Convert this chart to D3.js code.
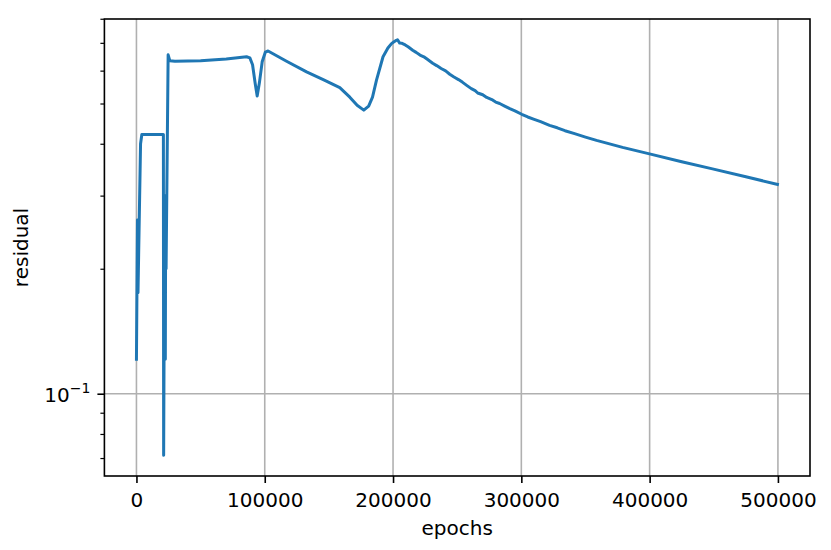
<!DOCTYPE html>
<html>
<head>
<meta charset="utf-8">
<script src="https://cdn.jsdelivr.net/npm/d3@7"></script>
<style>
  html, body { margin: 0; padding: 0; background: #fff; }
  svg { display: block; }
  text { font-family: "DejaVu Sans", sans-serif; fill: #000; }
</style>
</head>
<body>
<svg id="chart" width="831" height="550"></svg>
<script>
// ---- data ----
const epochs = [
  0, 800, 1200, 3200, 4200, 21000, 21200, 21500, 22500, 22800, 23100, 24700, 26000,
  30000, 50000, 70000, 85800, 88400, 90500, 92500, 94100, 95800, 98000, 100500, 102600,
  117000, 132600, 146000, 158500, 166300, 172000, 177200, 181000, 184000, 187100, 192200,
  196000, 198800, 200500, 202600, 203500, 205200, 207000, 209500, 212000, 215300, 218000,
  221000, 224000, 227000, 230900, 234000, 237500, 241000, 244200, 247500, 251000, 254000,
  257400, 261000, 264000, 266000, 269900, 273000, 277000, 280000, 283100, 287000, 291000,
  295000, 300300, 305000, 310000, 315000, 322000, 328000, 334000, 341500, 350000, 358600,
  378900, 399100, 425000, 449000, 475000, 499600
];
const residual = [
  0.121, 0.262, 0.175, 0.400, 0.421, 0.421, 0.0711, 0.121, 0.121, 0.30, 0.20, 0.655, 0.634,
  0.632, 0.634, 0.640, 0.648, 0.644, 0.620, 0.560, 0.521, 0.560, 0.630, 0.665, 0.669,
  0.632, 0.596, 0.570, 0.546, 0.518, 0.495, 0.482, 0.493, 0.518, 0.569, 0.648,
  0.680, 0.697, 0.703, 0.710, 0.712, 0.699, 0.698, 0.692, 0.684, 0.672, 0.664,
  0.654, 0.648, 0.638, 0.625, 0.617, 0.607, 0.599, 0.588, 0.579, 0.571, 0.563,
  0.553, 0.543, 0.537, 0.530, 0.525, 0.517, 0.511, 0.504, 0.500, 0.493, 0.486,
  0.480, 0.471, 0.464, 0.458, 0.452, 0.443, 0.437, 0.430, 0.423, 0.415, 0.4075,
  0.392, 0.3787, 0.362, 0.348, 0.333, 0.3193
];
const xTicks = [0, 100000, 200000, 300000, 400000, 500000];
const yMajorTicks = [0.1];
const yMinorTicks = [0.07, 0.08, 0.09, 0.2, 0.3, 0.4, 0.5, 0.6, 0.7, 0.8];
const xLabel = "epochs";
const yLabel = "residual";

// ---- layout ----
const svg = d3.select("#chart");
const L = 104.4, R = 810, T = 19, B = 476;

// matplotlib-style 5% margins
const xMin = d3.min(epochs), xMax = d3.max(epochs);
const xPad = (xMax - xMin) * 0.05;
const lyMin = Math.log10(d3.min(residual)), lyMax = Math.log10(d3.max(residual));
const lyPad = (lyMax - lyMin) * 0.05;

const x = d3.scaleLinear().domain([xMin - xPad, 525000]).range([L, R]);
const y = d3.scaleLog().domain([Math.pow(10, lyMin - lyPad), Math.pow(10, lyMax + lyPad)]).range([B, T]);

// grid
const grid = svg.append("g");
xTicks.forEach(t => {
  grid.append("line").attr("x1", x(t)).attr("x2", x(t)).attr("y1", T).attr("y2", B)
    .attr("stroke", "#b0b0b0").attr("stroke-width", 1.6);
});
yMajorTicks.forEach(t => {
  grid.append("line").attr("x1", L).attr("x2", R).attr("y1", y(t)).attr("y2", y(t))
    .attr("stroke", "#b0b0b0").attr("stroke-width", 1.6);
});

// line
const line = d3.line().x((d, i) => x(epochs[i])).y(d => y(d));
svg.append("path")
  .datum(residual)
  .attr("d", line)
  .attr("fill", "none")
  .attr("stroke", "#1f77b4")
  .attr("stroke-width", 3)
  .attr("stroke-linejoin", "round")
  .attr("stroke-linecap", "square");

// x axis
const xAxis = d3.axisBottom(x).tickValues(xTicks).tickFormat(d3.format("d"))
  .tickSize(7).tickPadding(7);
const gx = svg.append("g").attr("transform", `translate(0,${B})`).call(xAxis);
gx.select(".domain").remove();
gx.selectAll(".tick line").attr("stroke", "#000").attr("stroke-width", 1.6);
gx.selectAll(".tick text").attr("font-size", 20).attr("font-family", "DejaVu Sans")
  .attr("dy", null).attr("y", 31).attr("fill", "#000");

// y axis major
const yAxis = d3.axisLeft(y).tickValues(yMajorTicks).tickFormat(() => "").tickSize(7);
const gy = svg.append("g").attr("transform", `translate(${L},0)`).call(yAxis);
gy.select(".domain").remove();
gy.selectAll(".tick line").attr("stroke", "#000").attr("stroke-width", 1.6);
gy.selectAll(".tick").each(function(d) {
  const t = d3.select(this).select("text")
    .attr("x", -14).attr("dy", null).attr("y", 7.5)
    .attr("text-anchor", "end").attr("font-size", 20).attr("fill", "#000");
  t.text(null);
  t.append("tspan").text("10");
  t.append("tspan").attr("font-size", 14).attr("dy", -9).text("\u22121");
});

// y axis minor
const [d0, d1] = y.domain();
const minorVals = yMinorTicks.filter(v => v >= d0 && y(v) >= T - 1.2);
const yMinor = d3.axisLeft(y).tickValues(minorVals).tickFormat(() => "").tickSize(4);
const gym = svg.append("g").attr("transform", `translate(${L},0)`).call(yMinor);
gym.select(".domain").remove();
gym.selectAll(".tick line").attr("stroke", "#000").attr("stroke-width", 1.2);

// spines
svg.append("rect").attr("x", L).attr("y", T).attr("width", R - L).attr("height", B - T)
  .attr("fill", "none").attr("stroke", "#000").attr("stroke-width", 1.6);

// labels
svg.append("text").attr("x", (L + R) / 2).attr("y", 535).attr("text-anchor", "middle")
  .attr("font-size", 20).text(xLabel);
svg.append("text").attr("transform", `translate(28,${(T + B) / 2}) rotate(-90)`)
  .attr("text-anchor", "middle").attr("font-size", 20).text(yLabel);
</script>
</body>
</html>
